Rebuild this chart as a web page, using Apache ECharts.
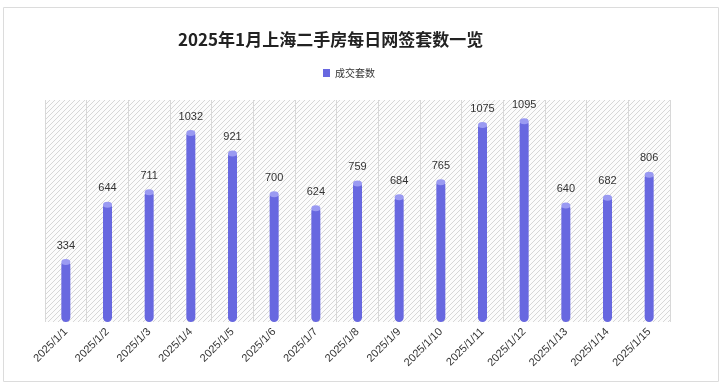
<!DOCTYPE html>
<html><head><meta charset="utf-8">
<script src="https://cdn.jsdelivr.net/npm/echarts@6/dist/echarts.min.js"></script>
<style>html,body{margin:0;padding:0;background:#fff}#c{width:724px;height:391px}</style>
</head><body><div id="c"></div>
<script>
const titleText = '2025年1月上海二手房每日网签套数一览';
const seriesName = '成交套数';
const categories = ['2025/1/1','2025/1/2','2025/1/3','2025/1/4','2025/1/5','2025/1/6','2025/1/7','2025/1/8','2025/1/9','2025/1/10','2025/1/11','2025/1/12','2025/1/13','2025/1/14','2025/1/15'];
const values = [334,644,711,1032,921,700,624,759,684,765,1075,1095,640,682,806];

const cv = document.createElement('canvas');
cv.width = 5; cv.height = 5;
const cx = cv.getContext('2d');
cx.fillStyle = '#fcfcfc'; cx.fillRect(0,0,5,5);
cx.strokeStyle = '#d2d2d2'; cx.lineWidth = 0.9;
cx.beginPath();
cx.moveTo(-1,6); cx.lineTo(6,-1);
cx.moveTo(-1,1); cx.lineTo(1,-1);
cx.moveTo(4,6); cx.lineTo(6,4);
cx.stroke();

const chart = echarts.init(document.getElementById('c'));
chart.setOption({
  animation: false,
  graphic: [{type:'rect', shape:{x:3.5,y:7.5,width:715,height:374}, style:{fill:'none', stroke:'#dcdcdc', lineWidth:1}, z:-10}],
  title: {text: titleText, left: 173, top: 26, textStyle:{fontSize:17, fontWeight:'bold', color:'#222', fontFamily:'Noto Sans CJK SC'}},
  legend: {data:[seriesName], left: 318, top: 63, itemWidth:7, itemHeight:8, icon:'rect', itemGap:4, textStyle:{fontSize:10, color:'#333', fontFamily:'Noto Sans CJK SC'}},
  grid: {left:45, right:54, top:100, bottom:69, show:true, borderWidth:0, backgroundColor:{image: cv, repeat:'repeat'}},
  xAxis: {type:'category', data:categories, boundaryGap:true,
    axisLine:{show:false}, axisTick:{show:false},
    splitLine:{show:true, lineStyle:{color:'#d8d8d8', width:1}},
    axisLabel:{rotate:45, fontSize:11, color:'#333', margin:8, interval:0}},
  yAxis: {type:'value', min:0, max:1200, show:false, splitLine:{show:false}},
  series: [
    {name:seriesName, type:'bar', data:values, barWidth:9, itemStyle:{color:'#6868e0', borderRadius:4.5},
     label:{show:true, position:'top', distance:9, fontSize:11, color:'#333'}},
    {type:'pictorialBar', data:values, symbol:'circle', symbolSize:[9,6], symbolPosition:'end', symbolOffset:[0,'-20%'], barGap:'-100%', itemStyle:{color:'#9a9af2'}, z:3, silent:true, legendHoverLink:false}
  ]
});
</script></body></html>
